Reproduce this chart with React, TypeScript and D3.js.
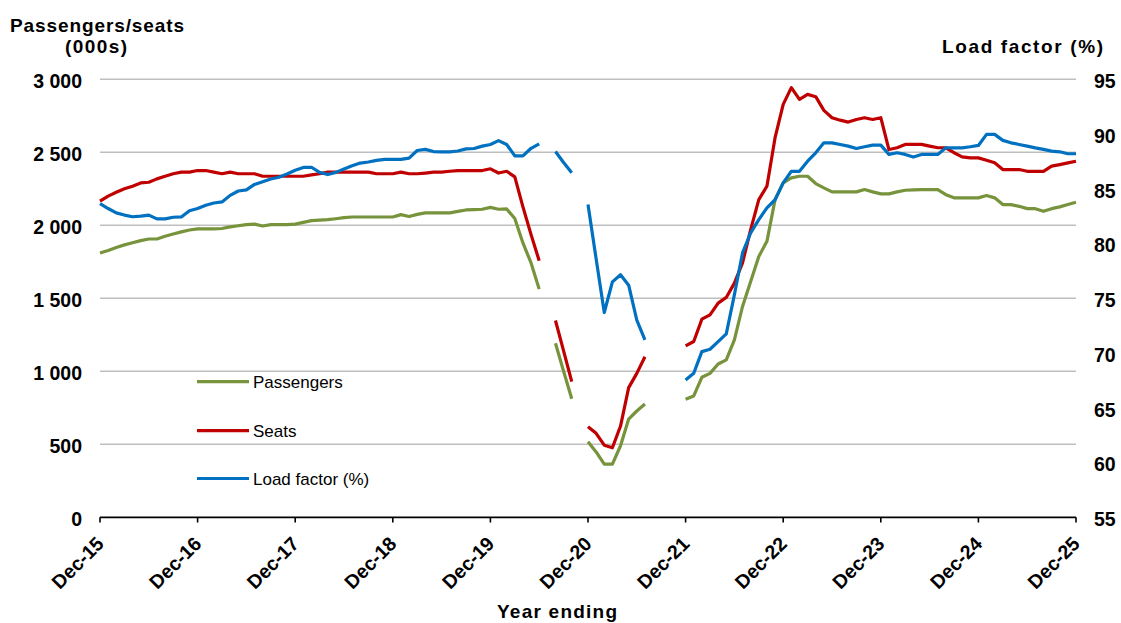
import React from "react";
import * as d3 from "d3";

// Month index 0 = Dec-15 ... 120 = Dec-25 (monthly, year ending)
const yearTickLabels = ["Dec-15","Dec-16","Dec-17","Dec-18","Dec-19","Dec-20","Dec-21","Dec-22","Dec-23","Dec-24","Dec-25"];
const leftTicks = [0, 500, 1000, 1500, 2000, 2500, 3000];
const rightTicks = [55, 60, 65, 70, 75, 80, 85, 90, 95];

const N = null;

const passengers: (number | null)[] = [
  1810, 1828, 1848, 1866, 1880, 1895, 1906, 1906, 1925, 1940, 1955, 1968,
  1975, 1975, 1975, 1978, 1989, 1997, 2005, 2008, 1995, 2005, 2005, 2005,
  2008, 2020, 2032, 2036, 2039, 2045, 2052, 2057, 2057, 2057, 2057, 2057,
  2057, 2073, 2060, 2075, 2085, 2085, 2085, 2085, 2095, 2105, 2107, 2110,
  2123, 2110, 2112, 2046, 1879, 1742, 1563, N, 1192, 1000, 812, N,
  517, 448, 364, 364, 490, 673, 728, 776, N, N, N, N,
  808, 831, 959, 986, 1050, 1078, 1215, 1444, 1615, 1787, 1890, 2176,
  2291, 2325, 2336, 2336, 2286, 2256, 2229, 2229, 2229, 2229, 2245, 2229,
  2215, 2215, 2229, 2240, 2242, 2245, 2245, 2245, 2210, 2188, 2188, 2188,
  2188, 2204, 2188, 2142, 2142, 2130, 2114, 2114, 2096, 2114, 2126, 2142,
  2158,
];

const seats: (number | null)[] = [
  2165, 2200, 2226, 2250, 2268, 2290, 2295, 2318, 2336, 2353, 2364, 2364,
  2375, 2375, 2364, 2353, 2364, 2353, 2353, 2353, 2336, 2336, 2336, 2336,
  2336, 2336, 2345, 2353, 2364, 2364, 2364, 2364, 2364, 2364, 2353, 2353,
  2353, 2364, 2353, 2353, 2358, 2364, 2364, 2370, 2375, 2375, 2375, 2375,
  2387, 2358, 2370, 2332, 2126, 1936, 1757, N, 1348, 1140, 929, N,
  620, 575, 494, 476, 625, 888, 986, 1100, N, N, N, N,
  1174, 1204, 1357, 1387, 1467, 1506, 1604, 1742, 1970, 2176, 2268, 2600,
  2828, 2943, 2863, 2897, 2881, 2787, 2737, 2720, 2707, 2725, 2737, 2725,
  2737, 2519, 2531, 2554, 2554, 2554, 2542, 2531, 2531, 2497, 2469, 2462,
  2462, 2446, 2428, 2382, 2382, 2382, 2370, 2370, 2370, 2405, 2416, 2428,
  2439,
];

const loadFactor: (number | null)[] = [
  83.65, 83.2, 82.8, 82.6, 82.45, 82.5, 82.6, 82.25, 82.25, 82.4, 82.43, 83.0,
  83.2, 83.5, 83.7, 83.8, 84.4, 84.8, 84.9, 85.4, 85.65, 85.9, 86.05, 86.35,
  86.7, 86.95, 86.97, 86.5, 86.3, 86.5, 86.8, 87.1, 87.35, 87.45, 87.6, 87.68,
  87.68, 87.68, 87.8, 88.5, 88.6, 88.4, 88.38, 88.38, 88.45, 88.65, 88.68, 88.9,
  89.05, 89.4, 89.05, 88.0, 88.0, 88.7, 89.1, N, 88.4, 87.4, 86.46, N,
  83.56, 78.6, 73.7, 76.5, 77.15, 76.2, 73.0, 71.2, N, N, N, N,
  67.54, 68.15, 70.13, 70.35, 71.05, 71.75, 75.32, 79.14, 80.97, 82.19, 83.26, 84.0,
  85.54, 86.6, 86.6, 87.52, 88.29, 89.2, 89.2, 89.05, 88.9, 88.68, 88.84, 88.99,
  88.99, 88.14, 88.29, 88.14, 87.9, 88.14, 88.14, 88.14, 88.74, 88.74, 88.74, 88.84,
  88.96, 89.97, 89.97, 89.42, 89.2, 89.05, 88.9, 88.74, 88.6, 88.44, 88.38, 88.2,
  88.2,
];

const legendItems = [
  { label: "Passengers", color: "#77933C" },
  { label: "Seats", color: "#C00000" },
  { label: "Load factor (%)", color: "#0070C0" },
];

const FONT = "'Liberation Sans', Arial, sans-serif";

export default function App() {
  const W = 1121, H = 623;
  const x = d3.scaleLinear().domain([0, 120]).range([100, 1076]);
  const yL = d3.scaleLinear().domain([0, 3000]).range([517.3, 79.3]);
  const yR = d3.scaleLinear().domain([55, 95]).range([517.3, 79.3]);

  const lineL = d3.line<number | null>()
    .defined((d) => d !== null)
    .x((_, i) => x(i))
    .y((d) => yL(d as number));
  const lineR = d3.line<number | null>()
    .defined((d) => d !== null)
    .x((_, i) => x(i))
    .y((d) => yR(d as number));

  const fmt = (v: number) => d3.format(",")(v).replace(/,/g, " ");

  return (
    <svg width={W} height={H} style={{ position: "absolute", left: 0, top: 0, background: "#fff" }} fontFamily={FONT}>
      {/* gridlines */}
      {leftTicks.filter((t) => t > 0).map((t) => (
        <line key={"g" + t} x1={100} x2={1076} y1={yL(t)} y2={yL(t)} stroke="#BFBFBF" strokeWidth={1.6} />
      ))}
      {/* x axis */}
      <line x1={100} x2={1076} y1={517.3} y2={517.3} stroke="#000" strokeWidth={1.8} />
      {yearTickLabels.map((lab, k) => (
        <g key={lab}>
          <line x1={x(k * 12)} x2={x(k * 12)} y1={517.3} y2={522.5} stroke="#000" strokeWidth={1.6} />
          <text
            transform={`translate(${x(k * 12) + 5},${545}) rotate(-45)`}
            textAnchor="end"
            fontSize={19.5}
            fontWeight="bold"
            fill="#000"
          >
            {lab}
          </text>
        </g>
      ))}
      {/* left ticks */}
      {leftTicks.map((t) => (
        <text key={"l" + t} x={82} y={yL(t) + 8.7} textAnchor="end" fontSize={19.5} fontWeight="bold" fill="#000">
          {fmt(t)}
        </text>
      ))}
      {/* right ticks */}
      {rightTicks.map((t) => (
        <text key={"r" + t} x={1094} y={yR(t) + 8.7} textAnchor="start" fontSize={19.5} fontWeight="bold" fill="#000">
          {t}
        </text>
      ))}
      {/* axis titles */}
      <text x={10} y={32} fontSize={19} fontWeight="bold" textLength={174} lengthAdjust="spacing">Passengers/seats</text>
      <text x={65} y={53} fontSize={19} fontWeight="bold" textLength={62} lengthAdjust="spacing">(000s)</text>
      <text x={942} y={53} fontSize={19} fontWeight="bold" textLength={161} lengthAdjust="spacing">Load factor (%)</text>
      <text x={497} y={618} fontSize={19} fontWeight="bold" textLength={120} lengthAdjust="spacing">Year ending</text>

      {/* series */}
      <path d={lineL(passengers) || ""} fill="none" stroke="#77933C" strokeWidth={3.2} strokeLinejoin="round" />
      <path d={lineL(seats) || ""} fill="none" stroke="#C00000" strokeWidth={3.2} strokeLinejoin="round" />
      <path d={lineR(loadFactor) || ""} fill="none" stroke="#0070C0" strokeWidth={3.2} strokeLinejoin="round" />

      {/* legend */}
      {legendItems.map((it, k) => {
        const ly = [381.7, 430.7, 478.5][k];
        return (
          <g key={it.label}>
            <line x1={197} x2={249} y1={ly} y2={ly} stroke={it.color} strokeWidth={3.2} />
            <text x={253} y={ly + 6.6} fontSize={17} fill="#000">{it.label}</text>
          </g>
        );
      })}
    </svg>
  );
}
